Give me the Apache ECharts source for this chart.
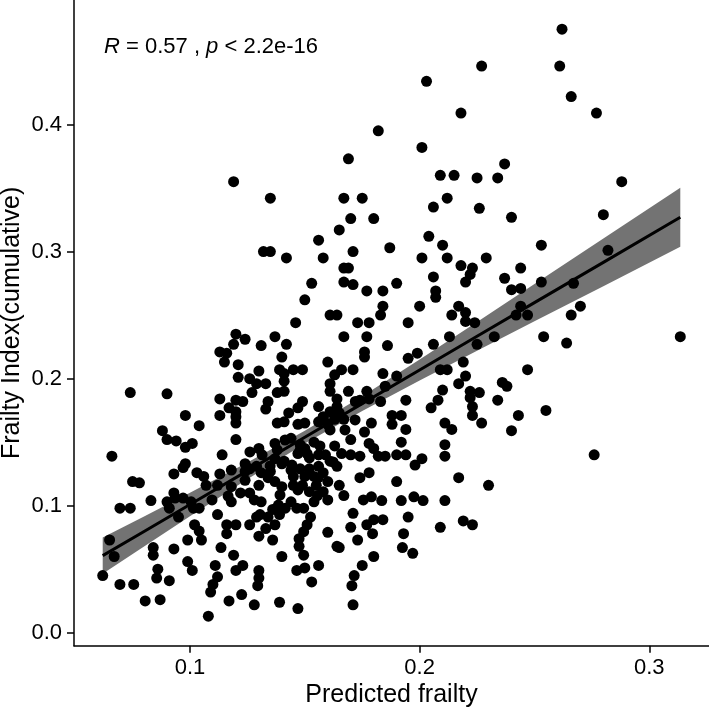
<!DOCTYPE html>
<html>
<head>
<meta charset="utf-8">
<script src="https://cdn.jsdelivr.net/npm/echarts@6/dist/echarts.min.js"></script>
<style>html,body{margin:0;padding:0;background:#fff}#c{width:709px;height:710px}</style>
</head>
<body>
<div id="c"></div>
<script>
// Scatter data: predicted frailty (x) and Frailty Index cumulative (y)
const predicted = [
0.262,0.261,0.266,0.277,0.237,0.227,0.203,0.218,0.182,0.201,0.169,
0.119,0.135,0.132,0.135,0.142,
0.209,0.215,0.225,0.234,0.167,0.175,0.212,0.206,0.226,0.170,0.180,0.165,0.156,0.204,0.210,0.187,0.171,0.158,0.201,0.212,0.229,0.167,0.169,0.218,0.223,0.222,0.206,0.220,0.153,0.167,0.171,0.190,0.177,0.184,0.207,0.207,0.150,0.200,0.184,0.183,0.161,0.164,0.217,0.214,0.220,0.146,0.173,0.178,0.195,0.220,0.224,
0.288,0.240,0.280,0.253,0.282,0.244,0.237,0.240,0.244,0.253,0.267,0.244,0.242,0.247,0.270,0.266,
0.3135,0.254,0.264,0.2325,0.247,0.236,0.238,0.234,0.255,0.243,0.240,0.276,
0.167,0.177,0.213,0.142,0.186,0.206,0.225,0.176,0.176,0.195,0.199,0.160,0.145,0.149,0.166,0.171,0.163,0.161,0.184,0.190,0.209,0.212,0.219,0.220,0.217,0.161,0.169,0.177,0.185,0.210,0.222,0.226,0.164,0.164,0.149,0.147,0.156,0.172,0.174,0.178,0.183,0.194,0.208,0.205,0.222,0.223,0.223,0.161,0.165,0.158,0.163,0.167,0.188,0.192,0.188,0.179,0.150,0.147,0.211,0.214,0.227,0.194,0.176,0.144,0.154,0.148,0.170,0.178,0.180,0.192,0.211,0.163,0.147,0.151,0.150,0.156,0.159,0.166,0.170,0.174,0.182,0.185,0.190,0.194,0.211,0.161,0.164,0.201,0.198,0.178,0.174,0.190,0.217,0.230,
0.144,0.148,0.152,0.156,0.145,0.150,0.154,0.158,0.145,0.149,0.155,0.160,0.165,0.158,0.152,0.141,0.143,0.141,0.156,0.158,0.160,0.141,0.141,0.141,
0.120,0.124,0.137,0.119,0.131,0.113,0.116,0.115,0.140,0.121,0.130,0.139,0.121,0.126,0.129,0.133,0.127,0.138,0.074,0.090,0.113,0.120,0.123,0.134,0.133,0.117,0.120,0.120,0.120,0.113,0.098,0.104,0.138,0.088,0.090,0.094,0.098,0.101,0.120,0.114,0.130,0.137,0.138,0.066,0.098,0.097,0.093,0.103,0.106,0.113,0.118,0.124,0.126,0.129,0.075,0.078,0.107,0.112,
0.131,0.134,0.137,0.130,0.140,0.118,0.122,0.126,0.093,0.135,0.137,0.140,0.124,
0.0695,0.074,0.083,0.065,0.067,0.062,0.0695,0.0755,0.0805,0.087,0.084,0.084,0.093,0.086,0.0855,0.091,0.095,0.099,0.102,0.104,0.105,0.112,0.099,0.101,0.1135,0.111,0.112,0.110,0.109,0.108,0.116,0.120,0.116,0.118,0.119,0.123,0.120,0.117,0.1225,0.128,0.126,0.129,0.130,0.130,0.130,0.1295,0.136,0.139,0.140,
0.090,0.0935,0.097,0.091,0.1015,0.104,0.1005,0.128,0.131,0.1305,0.134,0.136,0.1385,0.139,0.137,0.133,
0.160,0.171,0.170,0.165,0.164,0.173,0.177,0.180,0.1795,0.184,0.1835,0.192,0.2015,0.211,0.195,0.193,0.1925,0.197,0.209,0.219,0.223,0.180,0.175,0.1715,0.1705,0.171,0.156,0.150,0.1465,0.153,0.147,0.1465,0.1495,0.1525,0.151,0.1495,0.1475,0.1475,0.1495,0.1415,0.1555,0.160,0.167,0.1755,0.179,0.154,0.144,0.1975,
0.148,0.152,0.1566,0.1444,0.1558,0.1623,0.147,0.1349,0.1314,0.1261,0.124,0.1166,0.1096,0.1392,0.1675,0.1719,0.161,0.1414
];
const frailtyIndex = [
0.475,0.446,0.422,0.409,0.369,0.446,0.434,0.409,0.395,0.382,0.373,
0.355,0.342,0.300,0.300,0.295,
0.360,0.360,0.358,0.358,0.342,0.342,0.342,0.335,0.334,0.326,0.326,0.317,0.309,0.312,0.305,0.303,0.300,0.295,0.295,0.295,0.295,0.287,0.287,0.289,0.287,0.282,0.280,0.276,0.275,0.276,0.274,0.275,0.269,0.269,0.269,0.264,0.262,0.257,0.257,0.250,0.250,0.250,0.257,0.250,0.252,0.244,0.244,0.244,0.244,0.245,0.244,
0.355,0.327,0.329,0.305,0.301,0.287,0.279,0.270,0.271,0.276,0.275,0.257,0.250,0.250,0.257,0.250,
0.233,0.233,0.228,0.233,0.207,0.197,0.194,0.183,0.175,0.171,0.159,0.140,
0.233,0.233,0.233,0.227,0.226,0.227,0.227,0.221,0.217,0.216,0.220,0.213,0.207,0.207,0.207,0.207,0.203,0.196,0.204,0.202,0.207,0.207,0.213,0.202,0.196,0.190,0.190,0.190,0.194,0.191,0.190,0.189,0.184,0.178,0.182,0.177,0.178,0.182,0.183,0.184,0.182,0.183,0.183,0.177,0.185,0.178,0.171,0.174,0.173,0.170,0.168,0.168,0.171,0.171,0.164,0.165,0.165,0.164,0.165,0.160,0.165,0.160,0.158,0.153,0.150,0.148,0.152,0.149,0.145,0.150,0.148,0.147,0.141,0.141,0.145,0.140,0.140,0.141,0.140,0.139,0.139,0.139,0.140,0.140,0.139,0.135,0.131,0.137,0.132,0.126,0.122,0.119,0.122,0.116,
0.128,0.129,0.129,0.131,0.123,0.123,0.123,0.126,0.116,0.116,0.116,0.119,0.116,0.111,0.111,0.135,0.173,0.166,0.166,0.169,0.164,0.204,0.198,0.190,
0.235,0.231,0.233,0.227,0.226,0.221,0.220,0.213,0.217,0.211,0.206,0.207,0.201,0.200,0.196,0.196,0.189,0.189,0.189,0.188,0.184,0.183,0.182,0.182,0.176,0.177,0.174,0.170,0.165,0.171,0.171,0.163,0.165,0.159,0.152,0.151,0.146,0.149,0.152,0.140,0.145,0.149,0.144,0.139,0.133,0.130,0.125,0.126,0.123,0.125,0.128,0.133,0.129,0.131,0.119,0.118,0.116,0.116,
0.126,0.122,0.119,0.116,0.115,0.115,0.110,0.110,0.110,0.127,0.137,0.133,0.127,
0.098,0.098,0.104,0.073,0.060,0.045,0.038,0.038,0.025,0.026,0.067,0.061,0.066,0.050,0.043,0.041,0.091,0.073,0.085,0.080,0.073,0.093,0.056,0.049,0.067,0.053,0.044,0.038,0.032,0.013,0.085,0.085,0.078,0.103,0.061,0.053,0.049,0.025,0.030,0.022,0.085,0.091,0.076,0.049,0.043,0.037,0.073,0.024,0.060,
0.103,0.106,0.106,0.098,0.098,0.098,0.103,0.1045,0.103,0.093,0.091,0.097,0.1005,0.093,0.085,0.082,
0.079,0.094,0.083,0.067,0.068,0.073,0.085,0.089,0.078,0.089,0.104,0.104,0.104,0.104,0.091,0.078,0.067,0.0625,0.083,0.088,0.085,0.060,0.053,0.045,0.037,0.022,0.053,0.051,0.049,0.040,0.019,0.098,0.098,0.091,0.085,0.0795,0.074,0.068,0.061,0.098,0.108,0.1045,0.108,0.1045,0.107,0.103,0.103,0.107,
0.144,0.1376,0.147,0.132,0.1218,0.1344,0.1124,0.1313,0.140,0.1423,0.120,0.1076,0.1045,0.1084,0.1596,0.1675,0.1596,0.1517
];
// Linear fit with 95% confidence band
const fitX = [0.062, 0.08, 0.10, 0.125, 0.15, 0.175, 0.20, 0.225, 0.25, 0.28, 0.3135];
const fitY = [0.0607, 0.0797, 0.1009, 0.1274, 0.1539, 0.1803, 0.2068, 0.2333, 0.2598, 0.2915, 0.327];
const fitLower = [0.0465, 0.0679, 0.0916, 0.1209, 0.1489, 0.1745, 0.1985, 0.2220, 0.2451, 0.2727, 0.3037];
const fitUpper = [0.0749, 0.0915, 0.1102, 0.1339, 0.1589, 0.1861, 0.2151, 0.2446, 0.2745, 0.3103, 0.3503];
const xTicks = [0.1, 0.2, 0.3];
const yTicks = [0.0, 0.1, 0.2, 0.3, 0.4];

const FONT = "'Liberation Sans', Arial, Helvetica, sans-serif";
const chart = echarts.init(document.getElementById('c'), null, {renderer: 'canvas'});
const n = Math.min(predicted.length, frailtyIndex.length);
const pts = [];
for (let i = 0; i < n; i++) pts.push([predicted[i], frailtyIndex[i]]);
const bandData = fitX.map((x, i) => [x, fitLower[i], fitUpper[i]]);
const lineData = fitX.map((x, i) => [x, fitY[i]]);

const axisCommon = {
  type: 'value',
  splitLine: {show: false},
  axisLine: {show: true, onZero: false, lineStyle: {color: '#000', width: 1.5}},
  axisTick: {show: true, length: 7, lineStyle: {color: '#000', width: 1.5}},
};

chart.setOption({
  animation: false,
  backgroundColor: '#fff',
  grid: {left: 74, right: 0, top: 0, bottom: 64.3, containLabel: false, outerBoundsMode: 'none'},
  xAxis: Object.assign({}, axisCommon, {
    min: 0.0495, max: 0.326,
    axisTick: Object.assign({}, axisCommon.axisTick, {customValues: xTicks}),
    axisLabel: {customValues: xTicks, formatter: v => v.toFixed(1), color: '#000', fontSize: 22, fontFamily: FONT, margin: 11},
    name: 'Predicted frailty', nameLocation: 'middle', nameGap: 37, nameMoveOverlap: false,
    nameTextStyle: {color: '#000', fontSize: 25, fontFamily: FONT}
  }),
  yAxis: Object.assign({}, axisCommon, {
    min: -0.0102, max: 0.498,
    axisTick: Object.assign({}, axisCommon.axisTick, {customValues: yTicks}),
    axisLabel: {customValues: yTicks, formatter: v => v.toFixed(1), color: '#000', fontSize: 22, fontFamily: FONT, margin: 12},
    name: 'Frailty Index(cumulative)', nameLocation: 'middle', nameGap: 49, nameMoveOverlap: false,
    nameTextStyle: {color: '#000', fontSize: 25, fontFamily: FONT}
  }),
  graphic: [{
    type: 'text', left: 104, top: 36, z: 100,
    style: {
      text: '{i|R} = 0.57 , {i|p} < 2.2e-16',
      fill: '#000', fontSize: 22, fontFamily: FONT,
      rich: {i: {fontStyle: 'italic', fontSize: 22, fontFamily: FONT, fill: '#000'}}
    }
  }],
  series: [
    {
      type: 'custom', z: 1, data: [0], silent: true,
      renderItem: function (params, api) {
        const up = bandData.map(d => api.coord([d[0], d[2]]));
        const lo = bandData.map(d => api.coord([d[0], d[1]])).reverse();
        return {type: 'polygon', shape: {points: up.concat(lo)}, style: {fill: '#737373'}};
      }
    },
    {
      type: 'scatter', z: 2, data: pts, symbol: 'circle', symbolSize: 11,
      itemStyle: {color: '#000', opacity: 1}, silent: true
    },
    {
      type: 'line', z: 3, data: lineData, showSymbol: false, symbol: 'none',
      lineStyle: {color: '#000', width: 3}, silent: true
    }
  ]
});
</script>
</body>
</html>
